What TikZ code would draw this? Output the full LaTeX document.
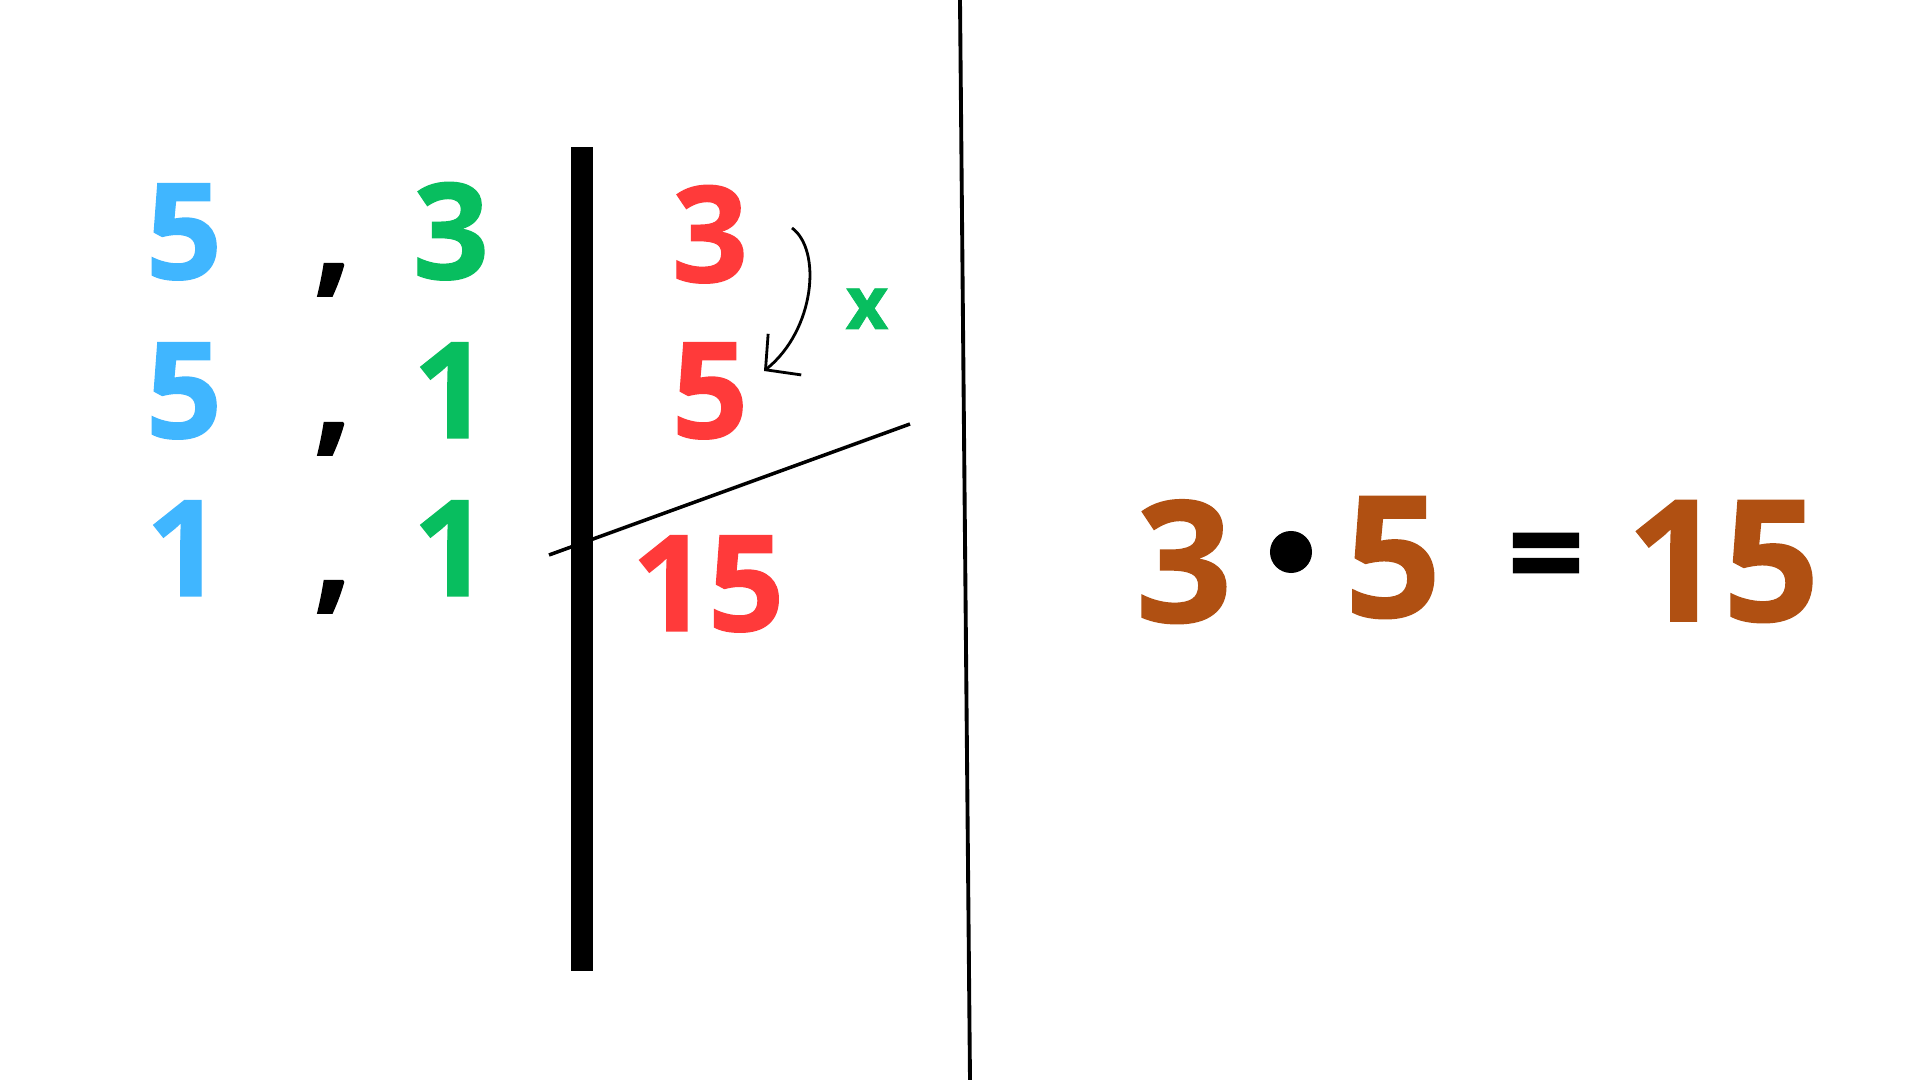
\documentclass[tikz,border=0pt]{standalone}
\usepackage{fontspec}
\setmainfont{Open Sans}[BoldFeatures={FakeBold=1}]
\usepackage{tikz}
\usetikzlibrary{arrows.meta}
\definecolor{skyblue}{RGB}{64,182,255}
\definecolor{leafgreen}{RGB}{8,190,95}
\definecolor{tomato}{RGB}{255,58,58}
\definecolor{rust}{RGB}{176,80,18}
\tikzstyle{digit} = [inner sep=0pt,anchor=base,font=\fontsize{38}{40}\selectfont\bfseries]
\tikzstyle{bigdigit} = [inner sep=0pt,anchor=base,font=\fontsize{48}{50}\selectfont\bfseries]
\tikzstyle{arrow} = [-{Straight Barb[length=7pt,width=15pt]},line width=0.8pt]

\begin{document}
\begin{tikzpicture}[x=0.01cm,y=-0.01cm]
    \useasboundingbox[fill=white] (0,0) rectangle (1920,1080);
    % divisors of 15 by rows
    \node[digit,skyblue] (a1) at (184,279) {5};
    \node[digit,skyblue] (a2) at (184,438) {5};
    \node[digit,skyblue] (a3) at (184,596) {1};
    \node[digit] (c1) at (333,279) {,};
    \node[digit] (c2) at (333,438) {,};
    \node[digit] (c3) at (333,596) {,};
    \node[digit,leafgreen] (b1) at (451,279) {3};
    \node[digit,leafgreen] (b2) at (451,438) {1};
    \node[digit,leafgreen] (b3) at (451,596) {1};
    % the bar
    \fill (571,147) rectangle (593,971);
    % factors and product
    \node[digit,tomato] (m1) at (710,282) {3};
    \node[digit,tomato] (m2) at (710,438) {5};
    \node[digit,tomato] (prod) at (708,631) {15};
    \node[inner sep=0pt,anchor=base,leafgreen,font=\fontsize{21}{22}\selectfont\bfseries] (times) at (867,329) {x};
    \coordinate (s) at (792,228);
    \coordinate (t) at (764,371);
    \draw[arrow] (s) .. controls (822,250) and (815,330) .. (t);
    \coordinate (d1) at (549,555);
    \coordinate (d2) at (910,424);
    \draw[line width=1pt] (d1) -- (d2);
    % separator
    \coordinate (top) at (960,0);
    \coordinate (bot) at (970,1080);
    \draw[line width=1.1pt] (top) -- (bot);
    % the equation
    \node[bigdigit,rust] (f1) at (1184,622) {3};
    \node[circle,fill,inner sep=0pt,minimum size=0.42cm] (dot) at (1291,552) {};
    \node[bigdigit,rust] (f2) at (1393,617) {5};
    \node[digit] (eq) at (1546,600) {=};
    \node[bigdigit,rust] (f3) at (1723,621) {15};
\end{tikzpicture}
\end{document}
